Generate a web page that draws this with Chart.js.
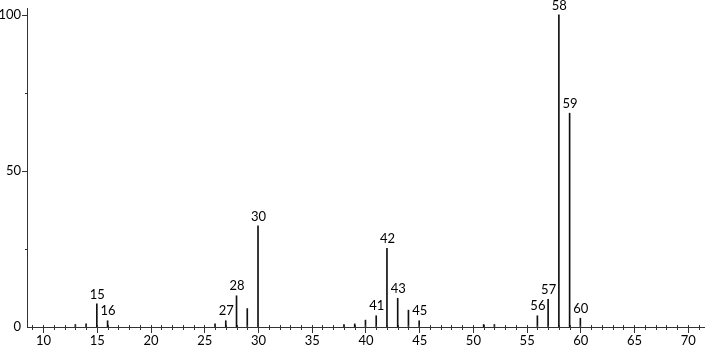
<!DOCTYPE html>
<html>
<head>
<meta charset="utf-8">
<script src="https://cdn.jsdelivr.net/npm/chart.js@4/dist/chart.umd.min.js"></script>
<style>
  html, body { margin: 0; padding: 0; background: #fff; }
  #wrap { width: 705px; height: 349px; }
</style>
</head>
<body>
<div id="wrap"><canvas id="spectrum"></canvas></div>
<script>
// m/z and relative intensity
const mz =        [13, 14, 15, 16, 26, 27, 28, 29, 30, 38, 39, 40, 41, 42, 43, 44, 45, 51, 52, 56, 57, 58, 59, 60];
const intensity = [0.8, 1, 7.4, 2, 1, 2, 10, 5.9, 32.4, 0.8, 1, 2.2, 3.6, 25.2, 9.2, 5.4, 2, 0.8, 0.8, 3.6, 8.9, 100, 68.5, 2.8];
const labelled =  [15, 16, 27, 28, 30, 41, 42, 43, 45, 56, 57, 58, 59, 60];
const xTicks = [10, 15, 20, 25, 30, 35, 40, 45, 50, 55, 60, 65, 70];
const yTicks = [0, 50, 100];

const font = '13px Lato, "Open Sans", sans-serif';

const axesPlugin = {
    id: 'axes',
    afterDatasetsDraw(chart) {
        const c = chart.ctx;
        const a = chart.chartArea;
        const xs = chart.scales.x;
        const ys = chart.scales.y;
        const y0 = ys.getPixelForValue(0);

        c.save();
        c.strokeStyle = '#333';
        c.lineWidth = 1;
        c.beginPath();
        c.moveTo(a.left + 0.5, a.top);
        c.lineTo(a.left + 0.5, y0);
        c.moveTo(a.left, y0 + 0.5);
        c.lineTo(a.right, y0 + 0.5);

        // x ticks, one per unit, longer every 5
        for (let v = 9; v <= 71; v++) {
            const px = Math.round(xs.getPixelForValue(v)) + 0.5;
            c.moveTo(px, y0 - 2);
            c.lineTo(px, y0 + (v % 5 === 0 ? 6 : 3));
        }
        // y ticks
        for (let v = 25; v <= 100; v += 25) {
            const py = Math.round(ys.getPixelForValue(v)) + 0.5;
            c.moveTo(a.left - (v % 50 === 0 ? 5 : 2), py);
            c.lineTo(a.left, py);
        }
        c.stroke();

        c.fillStyle = '#000';
        c.font = font;
        c.textAlign = 'center';
        c.textBaseline = 'top';
        xTicks.forEach(function (v) {
            c.fillText(String(v), xs.getPixelForValue(v) + 0.5, y0 + 7);
        });
        c.textAlign = 'right';
        c.textBaseline = 'middle';
        yTicks.forEach(function (v) {
            c.fillText(String(v), a.left - 6, ys.getPixelForValue(v));
        });

        // peak labels
        c.textAlign = 'center';
        c.textBaseline = 'bottom';
        labelled.forEach(function (m) {
            const i = mz.indexOf(m);
            c.fillText(String(m), xs.getPixelForValue(m) + 0.5, ys.getPixelForValue(intensity[i]) - 3);
        });
        c.restore();
    }
};

const ctx = document.getElementById('spectrum');
const spectrum = new Chart(ctx, {
    type: 'bar',
    data: {
        datasets: [{
            data: mz.map(function (m, i) { return { x: m, y: intensity[i] }; }),
            backgroundColor: '#111',
            barThickness: 1
        }]
    },
    options: {
        responsive: true,
        maintainAspectRatio: false,
        animation: false,
        layout: { padding: { left: 27, top: 8, right: 0, bottom: 22 } },
        plugins: { legend: { display: false }, tooltip: { enabled: false } },
        scales: {
            x: { type: 'linear', min: 8.5, max: 71.6, offset: false, display: false },
            y: { min: 0, max: 102.2, display: false }
        }
    },
    plugins: [axesPlugin]
});
</script>
</body>
</html>
